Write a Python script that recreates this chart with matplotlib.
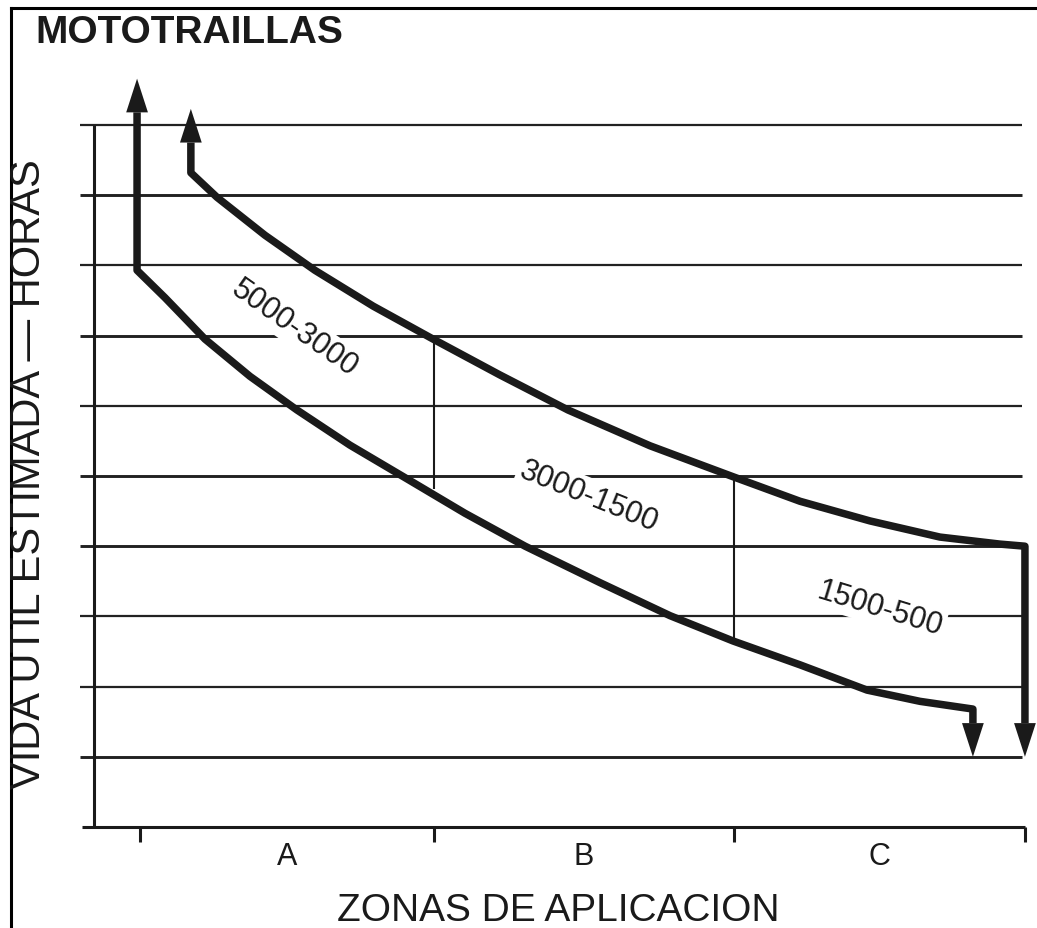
"""Mototraillas: vida util estimada segun la zona de aplicacion."""

import matplotlib.pyplot as plt
from matplotlib.lines import Line2D

plt.rcParams["font.family"] = ["Liberation Sans", "DejaVu Sans"]

TITLE = "MOTOTRAILLAS"
Y_LABEL = "VIDA UTIL ESTIMADA \u2014 HORAS"
X_LABEL = "ZONAS DE APLICACION"

# x: zone position (A from 0 to 1, B from 1 to 2, C from 2 to 3)
# y: grid level (0 = base line, 10 = top grid line)
ZONE_EDGES = [0.0, 1.0, 2.02, 3.01]
ZONE_NAMES = ["A", "B", "C"]
GRID_LEVELS = [1, 2, 3, 4, 5, 6, 7, 8, 9, 10]
HEAVY_LEVELS = [1, 4, 5, 7, 9]

# lower limit curve
LOWER_X = [-0.010, 0.085, 0.221, 0.374, 0.534, 0.714, 0.908, 1.105, 1.310,
           1.565, 1.803, 2.017, 2.245, 2.473, 2.653, 2.833]
LOWER_Y = [7.93, 7.54, 6.95, 6.42, 5.94, 5.44, 4.96, 4.47, 4.00,
           3.48, 3.01, 2.65, 2.31, 1.95, 1.79, 1.68]
LOWER_TIP_TOP = 10.66
LOWER_TIP_END = 1.0

# upper limit curve
UPPER_X = [0.173, 0.262, 0.425, 0.595, 0.793, 0.997, 1.224, 1.456,
           1.735, 2.017, 2.245, 2.483, 2.721, 2.925, 3.01]
UPPER_Y = [9.32, 8.97, 8.43, 7.93, 7.42, 6.95, 6.44, 5.94,
           5.43, 4.99, 4.64, 4.36, 4.13, 4.03, 4.00]
UPPER_TIP_TOP = 10.23
UPPER_TIP_END = 1.0

# thin dividers between zones
DIVIDER_X = [1.0, 2.02]
DIVIDER_TOP = [6.95, 4.98]
DIVIDER_BOTTOM = [4.81, 2.68]

RANGE_LABELS = ["5000-3000", "3000-1500", "1500-500"]
RANGE_X = [0.527, 1.527, 2.517]
RANGE_Y = [7.11, 4.715, 3.12]
RANGE_ANGLE = [-35, -22, -17]

INK = "#1a1a1a"
CURVE_LW = 5.4
HEAD_LEN = 0.48
HEAD_HALF = 0.037


def arrow_head(ax, x, tip, direction):
    base = tip - direction * HEAD_LEN
    ax.fill([x - HEAD_HALF, x + HEAD_HALF, x], [base, base, tip],
            color=INK, lw=0, zorder=4)
    return base


def main():
    fig = plt.figure(figsize=(10.37, 9.29), dpi=100)
    ax = fig.add_axes([0, 0, 1, 1])
    ax.set_xlim(-140 / 294, 897 / 294)
    ax.set_ylim(-101 / 70.2, 828 / 70.2)
    ax.axis("off")

    # grid and axes
    for level in GRID_LEVELS:
        lw = 2.1 if level in HEAVY_LEVELS else 1.6
        ax.hlines(level, -0.204, 3.0, color="#222222", lw=lw, zorder=1)
    ax.vlines(-0.156, 0, GRID_LEVELS[-1], color=INK, lw=2.2, zorder=1)
    ax.hlines(0, -0.197, ZONE_EDGES[-1], color=INK, lw=2.2, zorder=1)
    ax.vlines(ZONE_EDGES, -0.21, 0, color=INK, lw=2.2, zorder=1)
    for i, name in enumerate(ZONE_NAMES):
        mid = (ZONE_EDGES[i] + ZONE_EDGES[i + 1]) / 2
        ax.text(mid, -0.41, name, ha="center", va="center", fontsize=22,
                color=INK)

    ax.vlines(DIVIDER_X, DIVIDER_BOTTOM, DIVIDER_TOP, color=INK, lw=1.5,
              zorder=2)

    # lower curve with arrows
    top_base = arrow_head(ax, LOWER_X[0], LOWER_TIP_TOP, 1)
    end_base = arrow_head(ax, LOWER_X[-1], LOWER_TIP_END, -1)
    xs = [LOWER_X[0]] + LOWER_X + [LOWER_X[-1]]
    ys = [top_base] + LOWER_Y + [end_base]
    ax.plot(xs, ys, color=INK, lw=CURVE_LW, solid_joinstyle="round",
            solid_capstyle="butt", zorder=3)

    # upper curve with arrows
    top_base = arrow_head(ax, UPPER_X[0], UPPER_TIP_TOP, 1)
    end_base = arrow_head(ax, UPPER_X[-1], UPPER_TIP_END, -1)
    xs = [UPPER_X[0]] + UPPER_X + [UPPER_X[-1]]
    ys = [top_base] + UPPER_Y + [end_base]
    ax.plot(xs, ys, color=INK, lw=CURVE_LW, solid_joinstyle="round",
            solid_capstyle="butt", zorder=3)

    for label, x, y, angle in zip(RANGE_LABELS, RANGE_X, RANGE_Y, RANGE_ANGLE):
        ax.text(x, y, label, rotation=angle, rotation_mode="anchor",
                ha="center", va="center", fontsize=22, color=INK, zorder=2,
                bbox=dict(facecolor="white", edgecolor="none", pad=2))

    # frame lines at the top and left of the picture
    fig.add_artist(Line2D([11 / 1037, 1], [1 - 9 / 929] * 2, color="black",
                          lw=2.2, transform=fig.transFigure))
    fig.add_artist(Line2D([11 / 1037] * 2, [0, 1 - 9 / 929], color="black",
                          lw=2.2, transform=fig.transFigure))

    fig.text(35 / 1037, 1 - 43 / 929, TITLE, fontsize=28, weight="bold",
             va="baseline", color=INK)
    fig.text(29 / 1037, 1 - 474 / 929, Y_LABEL, rotation=90, fontsize=30,
             ha="center", va="center", color=INK)
    fig.text(558 / 1037, 1 - 921 / 929, X_LABEL, fontsize=28, ha="center",
             va="baseline", color=INK)

    fig.savefig("out.png", dpi=100)
    plt.close(fig)


if __name__ == "__main__":
    main()
